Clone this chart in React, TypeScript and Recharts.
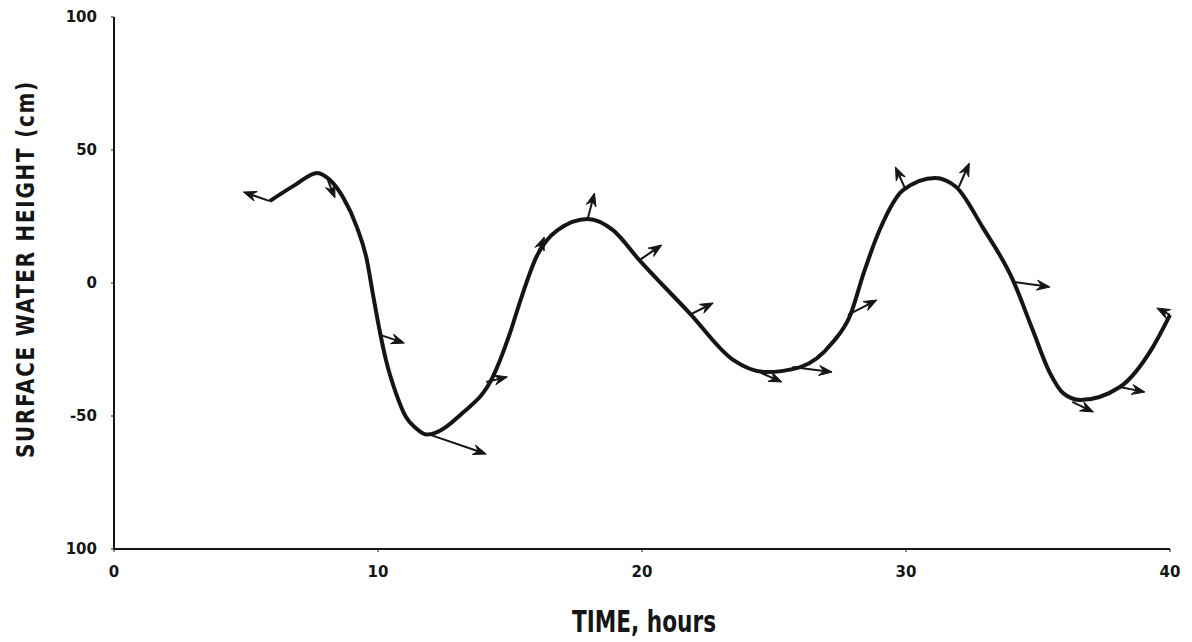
import React from "react";
import { CartesianGrid, Label, Line, LineChart, ReferenceLine, XAxis, YAxis } from "recharts";

// curve samples: time (hours) and surface water height (cm)
const TIME = [
  5.9, 6.85, 7.7, 8.18, 8.67, 9.2, 9.58, 9.8, 10.08, 10.3, 10.68, 11.06, 11.43, 11.85, 13.2,
  14.35, 15.0, 15.4, 16.0, 16.8, 17.95, 18.9, 19.9, 21.8, 23.45, 24.7, 26.0, 27.2, 27.9,
  28.4, 29.0, 29.9, 31.1, 31.9, 32.9, 34.05, 34.8, 35.45, 35.95, 36.6, 38.1, 39.35, 40.0
];
const HEIGHT = [
  30.8, 36.8, 41.4, 38.7, 32.3, 21, 8.6, -3.8, -18.8, -28.9, -41.4, -50.4, -54.5, -57, -48.9,
  -35.3, -18.8, -6.4, 9.8, 19.9, 24.1, 19.9, 8.6, -11.3, -28.9, -33.5, -31.6, -22.6, -11.8,
  3.8, 19.9, 35, 39.5, 36.1, 21, 1.1, -17.7, -33.8, -41.4, -44, -39.1, -24.1, -12
];

// velocity arrows: start on curve -> arrow tip
const ARROW_T0 = [5.9, 8.1, 10.08, 11.9, 14.1, 16.0, 17.95, 19.9, 21.8, 24.5, 25.7, 27.8, 29.96, 32.0, 34.1, 36.3, 38.1, 40.0];
const ARROW_H0 = [30.8, 38.7, -19.5, -56.8, -37.2, 9.8, 24.4, 8.6, -12, -33.8, -31.6, -12, 35.7, 36.1, 0.4, -44.7, -39.1, -12];
const ARROW_T1 = [4.9, 8.37, 11.0, 14.1, 14.9, 16.3, 18.2, 20.75, 22.7, 25.3, 27.2, 28.9, 29.6, 32.4, 35.45, 37.1, 39.05, 39.5];
const ARROW_H1 = [34.2, 32, -22.6, -64.3, -35.3, 17.3, 33.8, 14.3, -7.5, -37.2, -33.5, -6.4, 43.6, 45.1, -1.5, -48.5, -41, -9.4];

const X_TICKS = [0, 10, 20, 30, 40];
const Y_TICKS = [100, 50, 0, -50, -100];
const Y_TICK_LABELS = ["100", "50", "0", "-50", "100"];

const data = TIME.map((t, i) => ({ t, h: HEIGHT[i] }));
const arrows = ARROW_T0.map((t, i) => ({
  t0: t,
  h0: ARROW_H0[i],
  t1: ARROW_T1[i],
  h1: ARROW_H1[i]
}));

const INK = "#151515";
const LABEL_FONT = "'DejaVu Sans Condensed', 'Liberation Sans Narrow', 'DejaVu Sans', sans-serif";

const ArrowShape = (props: any) => {
  const { x1, y1, x2, y2 } = props;
  if ([x1, y1, x2, y2].some((v) => typeof v !== "number")) return null;
  const a = Math.atan2(y2 - y1, x2 - x1);
  const c = Math.cos(a);
  const s = Math.sin(a);
  const len = 13;
  const w = 5;
  const bx = x2 - len * c;
  const by = y2 - len * s;
  const nx = x2 - len * 0.65 * c;
  const ny = y2 - len * 0.65 * s;
  const pts = [
    `${x2},${y2}`,
    `${bx - w * s},${by + w * c}`,
    `${nx},${ny}`,
    `${bx + w * s},${by - w * c}`
  ].join(" ");
  return (
    <g>
      <line x1={x1} y1={y1} x2={nx} y2={ny} stroke={INK} strokeWidth={2} />
      <polygon points={pts} fill={INK} stroke={INK} strokeWidth={1} strokeLinejoin="miter" />
    </g>
  );
};

const tickStyle = { fontSize: 15, fontWeight: 700, fill: INK, fontFamily: "'DejaVu Sans', sans-serif" };

export default function App() {
  return (
    <div style={{ position: "absolute", left: 0, top: 0, background: "#fff" }}>
      <LineChart width={1192} height={642} data={data} margin={{ top: 17, right: 22, left: 0, bottom: 0 }}>
        <CartesianGrid stroke="none" />
        <XAxis
          dataKey="t"
          type="number"
          domain={[0, 40]}
          ticks={X_TICKS}
          height={93}
          tickSize={3}
          tickMargin={14}
          tick={tickStyle}
          axisLine={{ stroke: INK, strokeWidth: 2 }}
          tickLine={{ stroke: INK }}
        >
          <Label
            content={() => (
              <text
                x={644}
                y={621}
                textAnchor="middle"
                dominantBaseline="central"
                fontFamily={LABEL_FONT}
                fontWeight={700}
                fontSize={30}
                fill={INK}
                textLength={144}
                lengthAdjust="spacingAndGlyphs"
              >
                TIME, hours
              </text>
            )}
          />
        </XAxis>
        <YAxis
          type="number"
          domain={[-100, 100]}
          ticks={Y_TICKS}
          width={114}
          tickSize={3}
          tickMargin={14}
          tick={tickStyle}
          tickFormatter={(v: number) => Y_TICK_LABELS[Y_TICKS.indexOf(v)] ?? String(v)}
          axisLine={{ stroke: INK, strokeWidth: 2 }}
          tickLine={{ stroke: INK }}
        >
          <Label
            content={() => (
              <text
                x={25}
                y={269}
                transform="rotate(-90 25 269)"
                textAnchor="middle"
                dominantBaseline="central"
                fontFamily={LABEL_FONT}
                fontWeight={700}
                fontSize={25}
                fill={INK}
                letterSpacing={2}
                textLength={378}
                lengthAdjust="spacingAndGlyphs"
              >
                SURFACE WATER HEIGHT (cm)
              </text>
            )}
          />
        </YAxis>
        <Line
          dataKey="h"
          type="monotone"
          stroke={INK}
          strokeWidth={4}
          dot={false}
          activeDot={false}
          isAnimationActive={false}
        />
        {arrows.map((a, i) => (
          <ReferenceLine
            key={`arrow-${i}`}
            segment={[
              { x: a.t0, y: a.h0 },
              { x: a.t1, y: a.h1 }
            ]}
            ifOverflow="visible"
            shape={ArrowShape}
          />
        ))}
      </LineChart>
    </div>
  );
}
